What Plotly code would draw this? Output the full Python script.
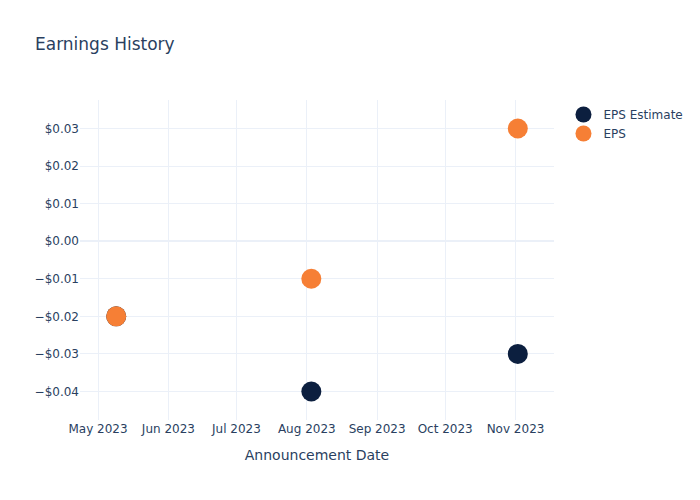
import plotly.graph_objects as go

dates = ["2023-05-09", "2023-08-03", "2023-11-02"]
eps_estimate = [-0.02, -0.04, -0.03]
eps_actual = [-0.02, -0.01, 0.03]

fig = go.Figure()
fig.add_trace(go.Scatter(x=dates, y=eps_estimate, mode="markers", name="EPS Estimate",
                         marker=dict(color="#0c1f3f", size=20)))
fig.add_trace(go.Scatter(x=dates, y=eps_actual, mode="markers", name="EPS",
                         marker=dict(color="#f67f35", size=20)))
fig.update_layout(
    template="plotly_white",
    font=dict(family="DejaVu Sans"),
    title=dict(text="Earnings History"),
    xaxis=dict(title=dict(text="Announcement Date")),
    yaxis=dict(tickformat="$.2f"),
    width=700, height=500,
)
fig.write_html("out.html", config={"displayModeBar": False},
               post_script="document.body.style.margin='0';")
